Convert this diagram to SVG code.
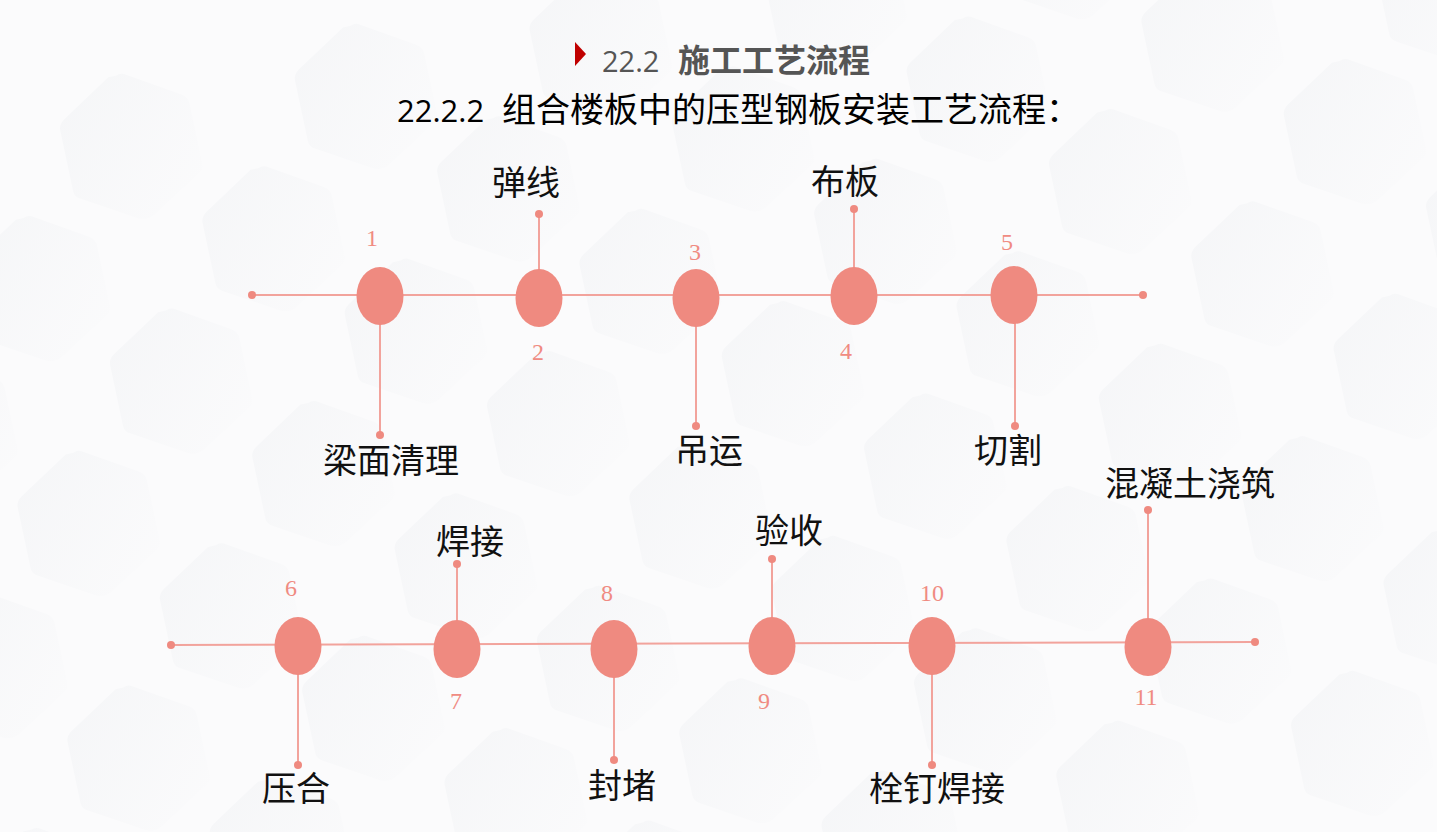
<svg xmlns="http://www.w3.org/2000/svg" xmlns:xlink="http://www.w3.org/1999/xlink" width="1437" height="832" viewBox="0 0 1437 832">
<defs>
<linearGradient id="hg" x1="0" y1="0" x2="1" y2="1">
<stop offset="0" stop-color="#eceef1"/>
<stop offset="1" stop-color="#fbfbfc"/>
</linearGradient>
<path id="hex" d="M0,-72 Q4,-74 8,-72 L60,-40 Q66,-36 66,-30 L66,32 Q66,38 60,41 L8,72 Q0,76 -8,72 L-60,41 Q-66,38 -66,32 L-66,-30 Q-66,-36 -60,-40 L-8,-72 Z" fill="url(#hg)" opacity="0.4"/>
<style>
.ln{stroke:#f2a39c;stroke-width:2;fill:none}
.dot{fill:#ef8a80}
.node{fill:#ef8a80}
.num{font-family:"Liberation Serif","DejaVu Serif",serif;font-size:24px;fill:#f08b82;text-anchor:middle}
.lbl{font-family:"Noto Sans CJK SC","Noto Sans",sans-serif;font-size:34px;fill:#111;text-anchor:middle}
</style>
</defs>
<rect width="1437" height="832" fill="#fbfbfc"/>
<g id="background">
<g transform="rotate(-12 718 416)">
<use xlink:href="#hex" x="-40" y="30"/><use xlink:href="#hex" x="200" y="30"/><use xlink:href="#hex" x="440" y="30"/><use xlink:href="#hex" x="680" y="30"/><use xlink:href="#hex" x="920" y="30"/><use xlink:href="#hex" x="1160" y="30"/><use xlink:href="#hex" x="1400" y="30"/>
<use xlink:href="#hex" x="80" y="150"/><use xlink:href="#hex" x="320" y="150"/><use xlink:href="#hex" x="560" y="150"/><use xlink:href="#hex" x="800" y="150"/><use xlink:href="#hex" x="1040" y="150"/><use xlink:href="#hex" x="1280" y="150"/><use xlink:href="#hex" x="1520" y="150"/>
<use xlink:href="#hex" x="-40" y="270"/><use xlink:href="#hex" x="200" y="270"/><use xlink:href="#hex" x="440" y="270"/><use xlink:href="#hex" x="680" y="270"/><use xlink:href="#hex" x="920" y="270"/><use xlink:href="#hex" x="1160" y="270"/><use xlink:href="#hex" x="1400" y="270"/>
<use xlink:href="#hex" x="80" y="390"/><use xlink:href="#hex" x="320" y="390"/><use xlink:href="#hex" x="560" y="390"/><use xlink:href="#hex" x="800" y="390"/><use xlink:href="#hex" x="1040" y="390"/><use xlink:href="#hex" x="1280" y="390"/><use xlink:href="#hex" x="1520" y="390"/>
<use xlink:href="#hex" x="-40" y="510"/><use xlink:href="#hex" x="200" y="510"/><use xlink:href="#hex" x="440" y="510"/><use xlink:href="#hex" x="680" y="510"/><use xlink:href="#hex" x="920" y="510"/><use xlink:href="#hex" x="1160" y="510"/><use xlink:href="#hex" x="1400" y="510"/>
<use xlink:href="#hex" x="80" y="630"/><use xlink:href="#hex" x="320" y="630"/><use xlink:href="#hex" x="560" y="630"/><use xlink:href="#hex" x="800" y="630"/><use xlink:href="#hex" x="1040" y="630"/><use xlink:href="#hex" x="1280" y="630"/><use xlink:href="#hex" x="1520" y="630"/>
<use xlink:href="#hex" x="-40" y="750"/><use xlink:href="#hex" x="200" y="750"/><use xlink:href="#hex" x="440" y="750"/><use xlink:href="#hex" x="680" y="750"/><use xlink:href="#hex" x="920" y="750"/><use xlink:href="#hex" x="1160" y="750"/><use xlink:href="#hex" x="1400" y="750"/>
<use xlink:href="#hex" x="80" y="870"/><use xlink:href="#hex" x="320" y="870"/><use xlink:href="#hex" x="560" y="870"/><use xlink:href="#hex" x="800" y="870"/><use xlink:href="#hex" x="1040" y="870"/><use xlink:href="#hex" x="1280" y="870"/>
</g>
</g>
<g id="title">
<polygon points="575,42 586,54 575,66" fill="#c00000"/>
<text x="602" y="72" font-family="'Open Sans','Noto Sans',sans-serif" font-size="29" fill="#555">22.2</text>
<text x="678" y="72" font-family="'Noto Sans CJK SC',sans-serif" font-size="32" font-weight="bold" fill="#555">施工工艺流程</text>
<text x="397" y="122" font-family="'Open Sans','Noto Sans',sans-serif" font-size="31" fill="#000">22.2.2</text>
<text x="502" y="122" font-family="'Noto Sans CJK SC',sans-serif" font-size="34" fill="#000">组合楼板中的压型钢板安装工艺流程：</text>
</g>
<g id="connectors">
<line class="ln" x1="252" y1="295" x2="1143" y2="295"/>
<circle class="dot" cx="252" cy="295" r="4"/><circle class="dot" cx="1143" cy="295" r="4"/>
<line class="ln" x1="380" y1="296" x2="380" y2="435"/><circle class="dot" cx="380" cy="435" r="4"/>
<line class="ln" x1="539" y1="298" x2="539" y2="214"/><circle class="dot" cx="539" cy="214" r="4"/>
<line class="ln" x1="696" y1="298" x2="696" y2="426"/><circle class="dot" cx="696" cy="426" r="4"/>
<line class="ln" x1="854" y1="296" x2="854" y2="209"/><circle class="dot" cx="854" cy="209" r="4"/>
<line class="ln" x1="1015" y1="295" x2="1015" y2="426"/><circle class="dot" cx="1015" cy="426" r="4"/>
<line class="ln" x1="171" y1="645" x2="1255" y2="642"/>
<circle class="dot" cx="171" cy="645" r="4"/><circle class="dot" cx="1255" cy="642" r="4"/>
<line class="ln" x1="298" y1="646" x2="298" y2="765"/><circle class="dot" cx="298" cy="765" r="4"/>
<line class="ln" x1="457" y1="649" x2="457" y2="564"/><circle class="dot" cx="457" cy="564" r="4"/>
<line class="ln" x1="614" y1="649" x2="614" y2="760"/><circle class="dot" cx="614" cy="760" r="4"/>
<line class="ln" x1="772" y1="646" x2="772" y2="559"/><circle class="dot" cx="772" cy="559" r="4"/>
<line class="ln" x1="932" y1="646" x2="932" y2="765"/><circle class="dot" cx="932" cy="765" r="4"/>
<line class="ln" x1="1148" y1="647" x2="1148" y2="510"/><circle class="dot" cx="1148" cy="510" r="4"/>
</g>
<g id="n1"><ellipse class="node" cx="380" cy="296" rx="23.5" ry="29"/><text class="num" x="372" y="246">1</text><text class="lbl" x="391" y="473">梁面清理</text></g>
<g id="n2"><ellipse class="node" cx="539" cy="298" rx="23.5" ry="29"/><text class="num" x="538" y="360">2</text><text class="lbl" x="526" y="195">弹线</text></g>
<g id="n3"><ellipse class="node" cx="696" cy="298" rx="23.5" ry="29"/><text class="num" x="695" y="260">3</text><text class="lbl" x="709" y="463">吊运</text></g>
<g id="n4"><ellipse class="node" cx="854" cy="296" rx="23.5" ry="29"/><text class="num" x="846" y="359">4</text><text class="lbl" x="845" y="194">布板</text></g>
<g id="n5"><ellipse class="node" cx="1014" cy="295" rx="23.5" ry="29"/><text class="num" x="1007" y="250">5</text><text class="lbl" x="1008" y="463">切割</text></g>
<g id="n6"><ellipse class="node" cx="298" cy="646" rx="23.5" ry="29"/><text class="num" x="291" y="596">6</text><text class="lbl" x="296" y="801">压合</text></g>
<g id="n7"><ellipse class="node" cx="457" cy="649" rx="23.5" ry="29"/><text class="num" x="456" y="709">7</text><text class="lbl" x="470" y="554">焊接</text></g>
<g id="n8"><ellipse class="node" cx="614" cy="649" rx="23.5" ry="29"/><text class="num" x="607" y="601">8</text><text class="lbl" x="622" y="798">封堵</text></g>
<g id="n9"><ellipse class="node" cx="772" cy="646" rx="23.5" ry="29"/><text class="num" x="764" y="709">9</text><text class="lbl" x="789" y="543">验收</text></g>
<g id="n10"><ellipse class="node" cx="932" cy="646" rx="23.5" ry="29"/><text class="num" x="932" y="601">10</text><text class="lbl" x="937" y="801">栓钉焊接</text></g>
<g id="n11"><ellipse class="node" cx="1148" cy="647" rx="23.5" ry="29"/><text class="num" x="1146" y="705">11</text><text class="lbl" x="1190" y="496">混凝土浇筑</text></g>
</svg>
